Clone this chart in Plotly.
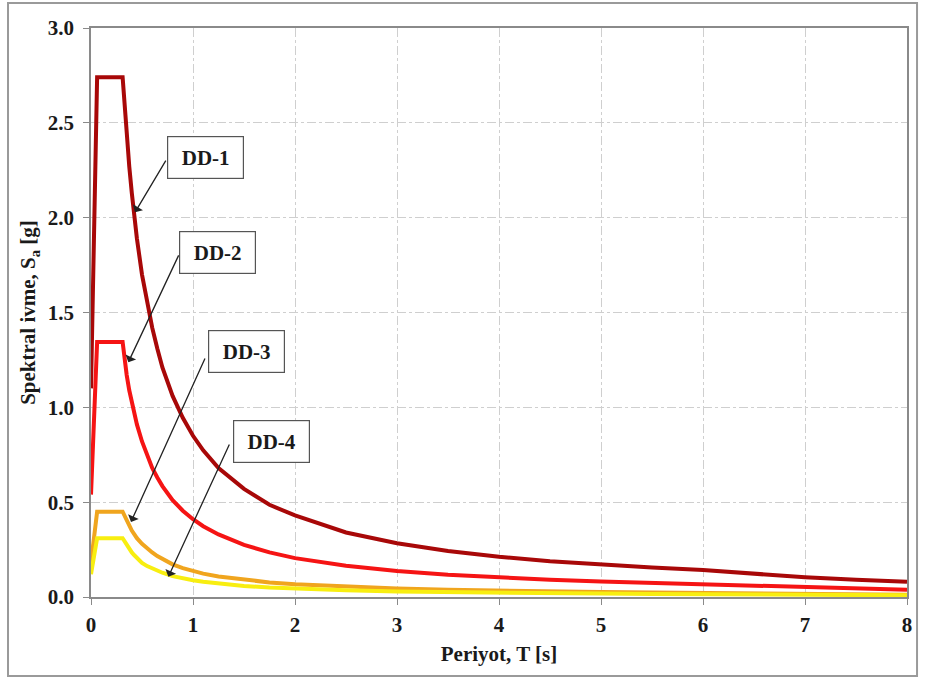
import plotly.graph_objects as go

# Period values (s) at which the spectra were read
periods = [0.0, 0.06, 0.31, 0.33, 0.35, 0.375, 0.4, 0.425, 0.45, 0.5, 0.55, 0.6, 0.65, 0.7, 0.8, 0.9,
           1.0, 1.1, 1.25, 1.5, 1.75, 2.0, 2.5, 3.0, 3.5, 4.0, 4.5, 5.0, 5.5, 6.0, 6.5, 7.0, 7.5, 8.0]

# Spectral acceleration Sa (g)
dd1 = [1.10, 2.74, 2.74, 2.58, 2.43, 2.27, 2.13, 2.00, 1.89, 1.70, 1.55, 1.42, 1.31, 1.21, 1.06, 0.945,
       0.85, 0.773, 0.68, 0.57, 0.486, 0.43, 0.34, 0.283, 0.243, 0.212, 0.189, 0.17, 0.155, 0.142,
       0.121, 0.104, 0.091, 0.080]
dd2 = [0.54, 1.345, 1.345, 1.24, 1.17, 1.09, 1.03, 0.965, 0.91, 0.82, 0.745, 0.68, 0.63, 0.585, 0.51, 0.455,
       0.41, 0.373, 0.33, 0.275, 0.235, 0.205, 0.165, 0.137, 0.117, 0.103, 0.091, 0.082, 0.075, 0.068,
       0.058, 0.050, 0.044, 0.038]
dd3 = [0.18, 0.45, 0.45, 0.425, 0.40, 0.375, 0.35, 0.33, 0.31, 0.28, 0.255, 0.235, 0.216, 0.20, 0.172, 0.152,
       0.135, 0.123, 0.108, 0.09, 0.077, 0.067, 0.054, 0.045, 0.038, 0.033, 0.029, 0.026, 0.024, 0.022,
       0.019, 0.016, 0.014, 0.012]
dd4 = [0.12, 0.31, 0.31, 0.292, 0.275, 0.255, 0.235, 0.22, 0.205, 0.18, 0.163, 0.15, 0.138, 0.128, 0.11, 0.098,
       0.088, 0.08, 0.07, 0.058, 0.05, 0.044, 0.035, 0.029, 0.025, 0.022, 0.02, 0.018, 0.016, 0.015,
       0.013, 0.011, 0.010, 0.009]

series_names = ["DD-1", "DD-2", "DD-3", "DD-4"]
series_values = [dd1, dd2, dd3, dd4]
series_colors = ["#A80808", "#F51414", "#F0A51E", "#F8EE10"]

x_ticks = [0, 1, 2, 3, 4, 5, 6, 7, 8]
y_ticks = [0.0, 0.5, 1.0, 1.5, 2.0, 2.5, 3.0]

SERIF = "Liberation Serif"

fig = go.Figure()
for name, vals, col in zip(series_names, series_values, series_colors):
    fig.add_trace(go.Scatter(x=periods, y=vals, mode="lines", name=name,
                             line=dict(color=col, width=4), showlegend=False))

# label boxes and arrows: (label, box center, arrow tail, arrow tip) in data coords
labels = [
    ("DD-1", (1.118, 2.316), (0.742, 2.309), (0.431, 2.028)),
    ("DD-2", (1.240, 1.816), (0.866, 1.809), (0.366, 1.238)),
    ("DD-3", (1.524, 1.297), (1.124, 1.265), (0.392, 0.396)),
    ("DD-4", (1.765, 0.821), (1.363, 0.812), (0.758, 0.107)),
]
annotations = []
for txt, (bx, by), (tx, ty), (hx, hy) in labels:
    annotations.append(dict(x=bx, y=by, xref="x", yref="y", text="<b>" + txt + "</b>",
                            showarrow=False, font=dict(family=SERIF, size=21, color="#1a1a1a"),
                            bgcolor="white", bordercolor="#555555", borderwidth=1.2,
                            borderpad=2, width=71, height=37, align="center"))
    annotations.append(dict(x=hx, y=hy, ax=tx, ay=ty, xref="x", yref="y", axref="x", ayref="y",
                            text="", showarrow=True, arrowhead=1, arrowsize=1.5,
                            arrowwidth=1.3, arrowcolor="#222222"))

axis_common = dict(showline=True, linecolor="#8a8a8a", linewidth=1.5, mirror=True,
                   ticks="outside", ticklen=6, tickcolor="#8a8a8a",
                   showgrid=True, gridcolor="#cfcfcf", gridwidth=1, griddash="dashdot",
                   zeroline=False,
                   tickfont=dict(family=SERIF, size=21, color="#1a1a1a", weight="bold"))

fig.update_layout(
    width=925, height=680,
    margin=dict(l=91, r=18, t=28, b=83),
    paper_bgcolor="white", plot_bgcolor="white",
    annotations=annotations,
    xaxis=dict(range=[0, 8], tickvals=x_ticks, ticklabelstandoff=2,
               title=dict(text="<b>Periyot, T [s]</b>", standoff=10,
                          font=dict(family=SERIF, size=21, color="#1a1a1a")),
               **axis_common),
    yaxis=dict(range=[0, 3], tickvals=y_ticks, tickformat=".1f", ticklabelstandoff=5,
               title=dict(text="<b>Spektral ivme, S<sub>a</sub> [g]</b>", standoff=6,
                          font=dict(family=SERIF, size=21, color="#1a1a1a")),
               **axis_common),
    shapes=[dict(type="rect", xref="paper", yref="paper",
                 x0=-0.1017, x1=1.0123, y0=-0.1388, y1=1.044,
                 line=dict(color="#9a9a9a", width=2), layer="below")],
)

fig.write_html("out.html", config={"displayModeBar": False},
               post_script="document.body.style.margin='0px';")
